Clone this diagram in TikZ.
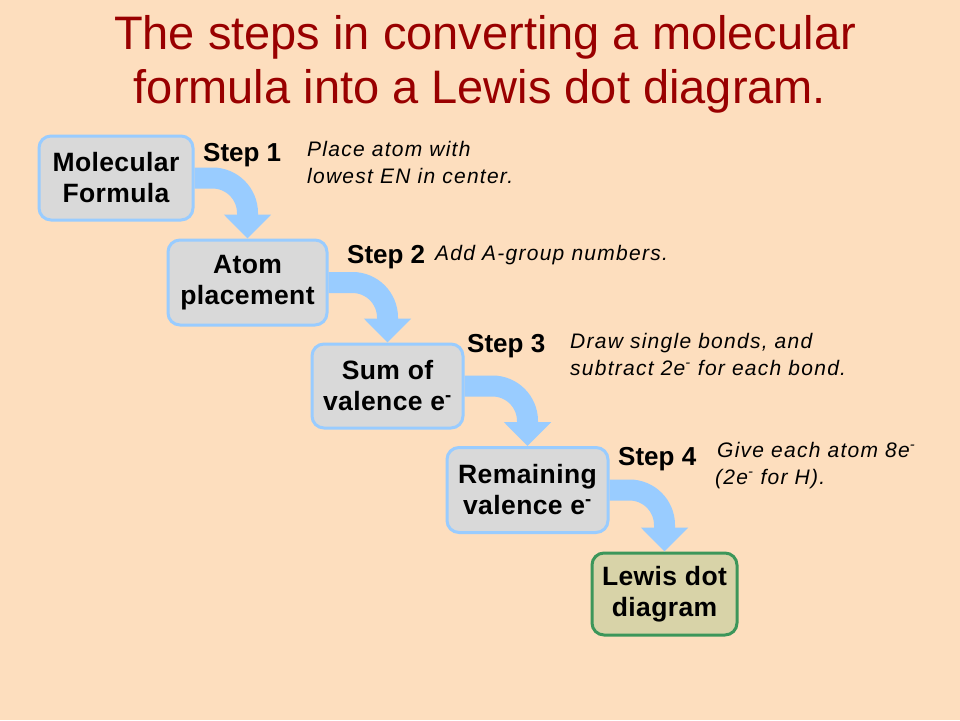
\documentclass[tikz,border=0pt]{standalone}
\usepackage{fontspec}
\setmainfont{Liberation Sans}
\usetikzlibrary{arrows.meta}
\definecolor{bgpeach}{RGB}{253,222,190}
\definecolor{titlered}{RGB}{153,0,0}
\definecolor{flowblue}{RGB}{153,204,255}
\definecolor{boxgray}{RGB}{217,217,217}
\definecolor{endfill}{RGB}{216,211,168}
\definecolor{endgreen}{RGB}{60,150,90}
\tikzset{
  stepbox/.style={draw=flowblue, fill=boxgray, line width=3pt, rounded corners=12pt,
    align=center, inner sep=0pt, font=\fontsize{26.5}{31}\selectfont\bfseries\addfontfeature{LetterSpace=1.5}},
  endbox/.style={stepbox, draw=endgreen, fill=endfill},
  flow/.style={draw=flowblue, line width=21pt, rounded corners=35pt,
    -{Triangle[length=24pt,width=46pt]}},
  steplabel/.style={anchor=base west, inner sep=0pt, font=\fontsize{26}{31}\selectfont\bfseries},
  note/.style={anchor=base west, inner sep=0pt, font=\fontsize{21}{27}\selectfont\itshape\addfontfeature{LetterSpace=6}},
  titletext/.style={anchor=base, inner sep=0pt, text=titlered, font=\fontsize{47}{54}\selectfont}
}
\begin{document}
\begin{tikzpicture}[x=1pt,y=-1pt]
\fill[bgpeach] (0,0) rectangle (960,720);
\useasboundingbox (0,0) rectangle (960,720);
% title
\node[titletext] (t1) at (485,49) {The steps in converting a molecular};
\node[titletext] (t2) at (480,103) {formula into a Lewis dot diagram.};
% boxes
\node[stepbox, minimum width=154pt, minimum height=84pt] (b1) at (116,178) {Molecular\\Formula};
\node[stepbox, minimum width=159pt, minimum height=85pt] (b2) at (247.5,282.5) {Atom\\placement};
\node[stepbox, minimum width=151pt, minimum height=84pt] (b3) at (387.5,386) {Sum of\\valence e\textsuperscript{-}};
\node[stepbox, minimum width=161pt, minimum height=85pt] (b4) at (527.5,490) {Remaining\\valence e\textsuperscript{-}};
\node[endbox, minimum width=145pt, minimum height=82pt] (b5) at (664.5,594) {Lewis dot\\diagram};
% arrows
\draw[flow] (b1.east) -| (b2.north);
\draw[flow] (b2.east) -| (b3.north);
\draw[flow] (b3.east) -| (b4.north);
\draw[flow] (b4.east) -| (b5.north);
% step labels
\node[steplabel] (s1) at (203,161) {Step 1};
\node[steplabel] (s2) at (347,263) {Step 2};
\node[steplabel] (s3) at (467,352) {Step 3};
\node[steplabel] (s4) at (618,465) {Step 4};
% notes
\node[note] (n1a) at (307,156) {Place atom with};
\node[note] (n1b) at (307,183) {lowest EN in center.};
\node[note] (n2) at (435,260) {Add A-group numbers.};
\node[note] (n3a) at (570,348) {Draw single bonds, and};
\node[note] (n3b) at (570,375) {subtract 2e\textsuperscript{-} for each bond.};
\node[note] (n4a) at (717,457) {Give each atom 8e\textsuperscript{-}};
\node[note] (n4b) at (715,484) {(2e\textsuperscript{-} for H).};
\end{tikzpicture}
\end{document}
